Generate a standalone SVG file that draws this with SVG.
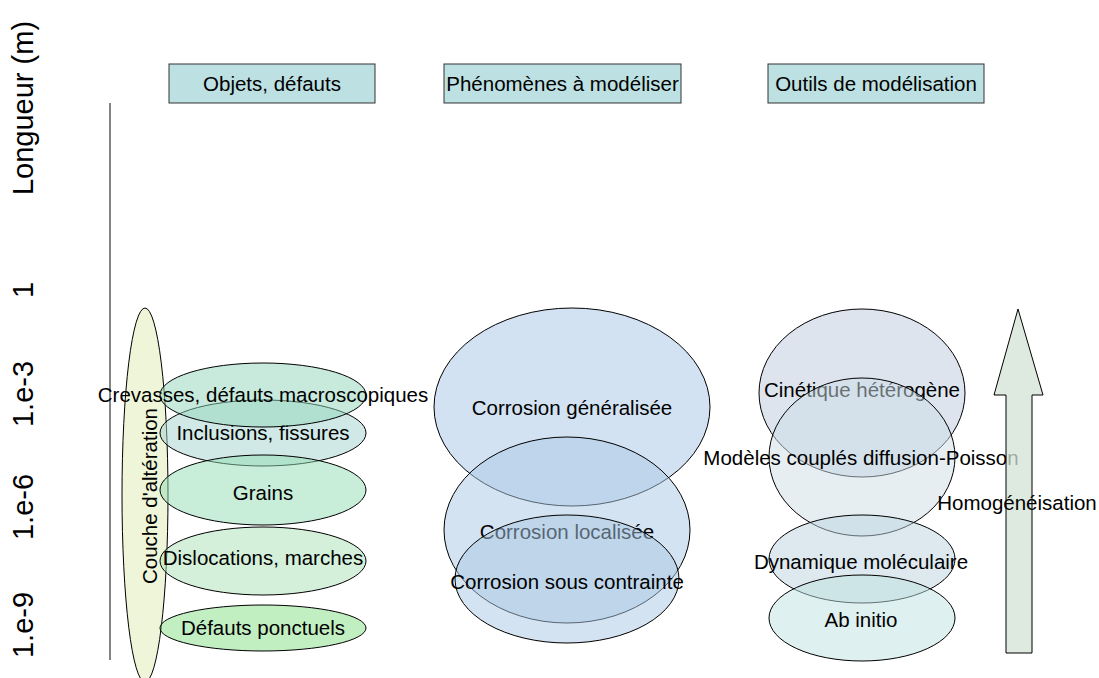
<svg xmlns="http://www.w3.org/2000/svg" width="1099" height="678" viewBox="0 0 1099 678">
<style>
text{font-family:"Liberation Sans",Arial,sans-serif;fill:#000;}
.lbl{font-size:20.5px;text-anchor:middle;}
.ax{font-size:29px;text-anchor:middle;}
.hdr rect{fill:#bde0e3;stroke:#333;stroke-width:1;}
.el{stroke:#000;stroke-width:1;fill-opacity:0.5;}
</style>
<rect width="1099" height="678" fill="#fff"/>
<g id="axis">
<line x1="110" y1="103" x2="110" y2="660" stroke="#333" stroke-width="1.2"/>
<text class="ax" transform="translate(33,108) rotate(-90)">Longueur (m)</text>
<text class="ax" transform="translate(33,290) rotate(-90)">1</text>
<text class="ax" transform="translate(33,394) rotate(-90)">1.e-3</text>
<text class="ax" transform="translate(33,507) rotate(-90)">1.e-6</text>
<text class="ax" transform="translate(33,625) rotate(-90)">1.e-9</text>
</g>
<g id="hdr-objets" class="hdr"><rect x="169" y="64" width="206" height="39"/><text class="lbl" x="272" y="91">Objets, défauts</text></g>
<g id="hdr-phenomenes" class="hdr"><rect x="444" y="64" width="237" height="39"/><text class="lbl" x="562.5" y="91">Phénomènes à modéliser</text></g>
<g id="hdr-outils" class="hdr"><rect x="768" y="64" width="216" height="39"/><text class="lbl" x="876" y="91">Outils de modélisation</text></g>

<g id="couche"><ellipse class="el" cx="145" cy="495" rx="23" ry="187" fill="#ddebb1"/></g>
<g id="inclusions"><ellipse class="el" cx="263" cy="433" rx="103" ry="33" fill="#a1d1cd"/><text class="lbl" x="263" y="440">Inclusions, fissures</text></g>
<g id="grains"><ellipse class="el" cx="263" cy="490" rx="103" ry="35" fill="#91dbb1"/><text class="lbl" x="263" y="500">Grains</text></g>
<g id="dislocations"><ellipse class="el" cx="263" cy="561" rx="103" ry="34" fill="#a9e1b5"/><text class="lbl" x="263" y="565">Dislocations, marches</text></g>
<g id="ponctuels"><ellipse class="el" cx="263" cy="628" rx="103" ry="23" fill="#85df85"/><text class="lbl" x="263" y="635">Défauts ponctuels</text></g>
<g id="crevasses"><ellipse class="el" cx="263" cy="395" rx="103" ry="32" fill="#91d5b9"/><text class="lbl" x="263" y="402">Crevasses, défauts macroscopiques</text></g>
<g id="couche-label"><text class="lbl" transform="translate(157,496) rotate(-90)">Couche d'altération</text></g>

<g id="corr-gen"><ellipse class="el" cx="572" cy="407" rx="138" ry="99" fill="#a5c5e5"/><text class="lbl" x="572" y="415">Corrosion généralisée</text></g>
<g id="corr-loc"><ellipse class="el" cx="567" cy="530" rx="123" ry="93" fill="#a9c7e3"/><text class="lbl" x="567" y="539">Corrosion localisée</text></g>
<g id="corr-sc"><ellipse class="el" cx="567" cy="579" rx="112" ry="64" fill="#a9c7e3"/><text class="lbl" x="567" y="589">Corrosion sous contrainte</text></g>

<g id="cinetique"><ellipse class="el" cx="862" cy="393" rx="103" ry="84" fill="#bbc9dd"/><text class="lbl" x="862" y="397">Cinétique hétérogène</text></g>
<g id="diffusion"><ellipse class="el" cx="862" cy="457" rx="93" ry="79" fill="#cdddE5"/><text class="lbl" x="861" y="465">Modèles couplés diffusion-Poisson</text></g>
<g id="dynamique"><ellipse class="el" cx="862" cy="559" rx="93" ry="44" fill="#bbd3df"/><text class="lbl" x="861" y="569">Dynamique moléculaire</text></g>
<g id="abinitio"><ellipse class="el" cx="862" cy="618" rx="93" ry="43" fill="#bfe1e1"/><text class="lbl" x="861" y="627">Ab initio</text></g>

<g id="connectors">
<polygon points="1018,309 1043,395 1032,395 1032,653 1006,653 1006,395 994,395" fill="#d3e3d6" fill-opacity="0.75" stroke="#000" stroke-width="1"/>
</g>
<g id="homogeneisation"><text class="lbl" x="1017" y="510">Homogénéisation</text></g>
</svg>
